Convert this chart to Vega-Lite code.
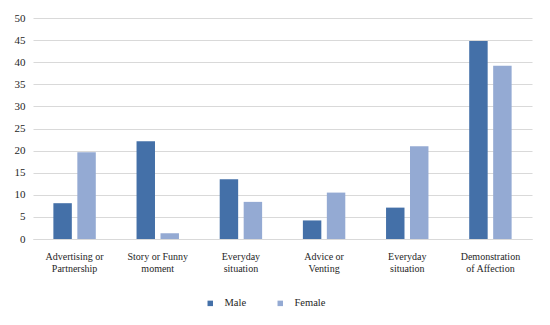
{
  "$schema": "https://vega.github.io/schema/vega-lite/v6.json",
  "autosize": "none",
  "width": 499,
  "height": 221,
  "padding": {"left": 33, "top": 18, "right": 18, "bottom": 86},
  "background": "white",
  "config": {
    "font": "Liberation Serif",
    "view": {"stroke": null},
    "axis": {"labelFont": "Liberation Serif", "labelColor": "#262626"},
    "legend": {"labelFont": "Liberation Serif", "labelColor": "#262626"}
  },
  "data": {
    "values": [
      {"category": "1|Advertising or|Partnership", "gender": "Male", "value": 8.1},
      {"category": "1|Advertising or|Partnership", "gender": "Female", "value": 19.6},
      {"category": "2|Story or Funny|moment", "gender": "Male", "value": 22.1},
      {"category": "2|Story or Funny|moment", "gender": "Female", "value": 1.3},
      {"category": "3|Everyday|situation", "gender": "Male", "value": 13.5},
      {"category": "3|Everyday|situation", "gender": "Female", "value": 8.4},
      {"category": "4|Advice or|Venting", "gender": "Male", "value": 4.2},
      {"category": "4|Advice or|Venting", "gender": "Female", "value": 10.5},
      {"category": "5|Everyday|situation", "gender": "Male", "value": 7.1},
      {"category": "5|Everyday|situation", "gender": "Female", "value": 21.0},
      {"category": "6|Demonstration|of Affection", "gender": "Male", "value": 44.8},
      {"category": "6|Demonstration|of Affection", "gender": "Female", "value": 39.2}
    ]
  },
  "mark": {"type": "bar"},
  "encoding": {
    "x": {
      "field": "category",
      "type": "nominal",
      "sort": null,
      "scale": {"paddingInner": 0.49, "paddingOuter": 0.245},
      "axis": {
        "title": null,
        "labelAngle": 0,
        "labelFontSize": 10,
        "labelLineHeight": 12.5,
        "labelPadding": 12,
        "ticks": false,
        "domainColor": "#d9d9d9",
        "labelExpr": "slice(split(datum.value, '|'), 1)"
      }
    },
    "xOffset": {
      "field": "gender",
      "type": "nominal",
      "sort": ["Male", "Female"],
      "scale": {"paddingInner": 0.23, "paddingOuter": 0}
    },
    "y": {
      "field": "value",
      "type": "quantitative",
      "scale": {"domain": [0, 50]},
      "axis": {
        "title": null,
        "values": [0, 5, 10, 15, 20, 25, 30, 35, 40, 45, 50],
        "domain": false,
        "ticks": false,
        "labelFontSize": 11,
        "labelPadding": 8,
        "gridColor": "#d9d9d9",
        "gridWidth": 1
      }
    },
    "color": {
      "field": "gender",
      "type": "nominal",
      "sort": ["Male", "Female"],
      "scale": {"domain": ["Male", "Female"], "range": ["#4470a8", "#94aad3"]},
      "legend": {
        "title": null,
        "orient": "none",
        "direction": "horizontal",
        "legendX": 172,
        "legendY": 280,
        "symbolType": "square",
        "symbolSize": 30,
        "symbolStrokeWidth": 0,
        "labelFontSize": 10.5,
        "labelOffset": 9,
        "columnPadding": 28
      }
    }
  }
}
